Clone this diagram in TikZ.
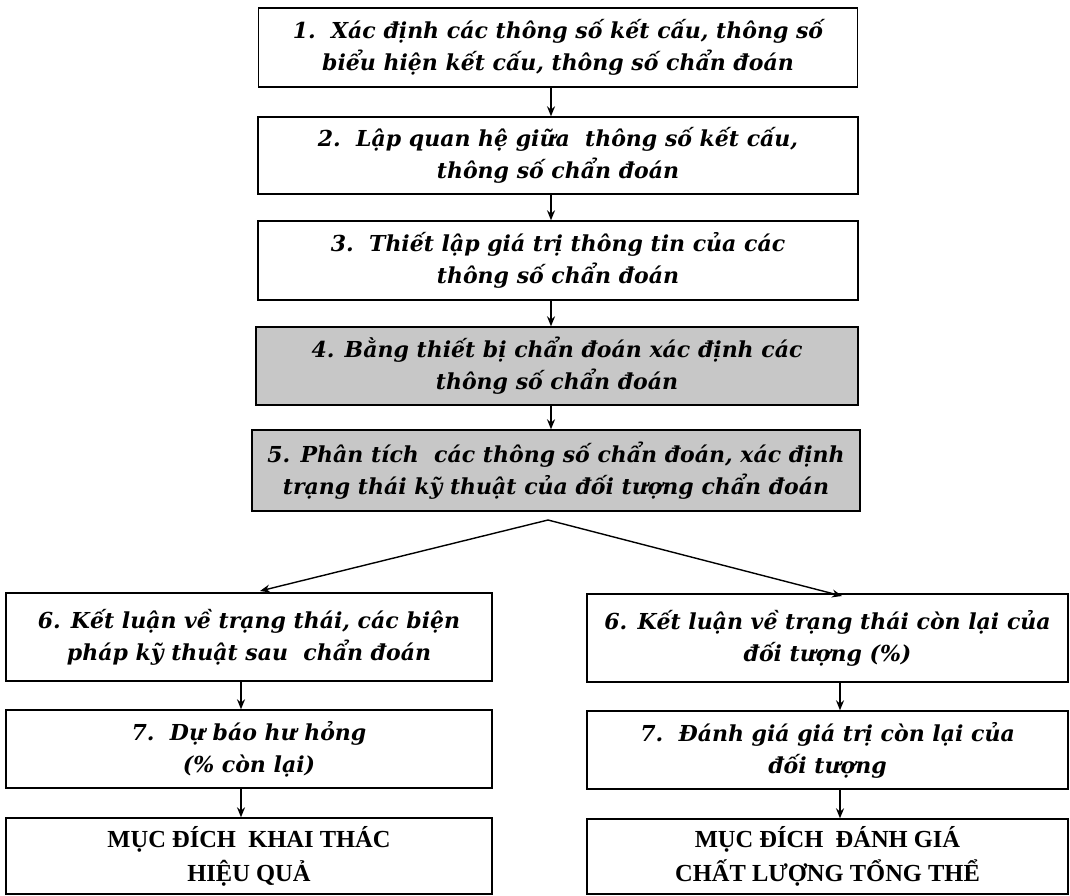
\documentclass[tikz,border=0pt]{standalone}
\usepackage{fontspec}
\setmainfont{DejaVu Serif}
\newfontfamily\capfont{Liberation Serif}
\usetikzlibrary{arrows.meta,calc}
\tikzset{
  box/.style={draw=black, line width=1.4pt, rectangle, inner sep=0pt, align=center,
    font=\fontsize{22}{32}\selectfont\bfseries\itshape},
  shaded/.style={box, fill=black!22},
  goal/.style={draw=black, line width=1.4pt, rectangle, inner sep=0pt, align=center,
    font=\capfont\fontsize{24.5}{34}\selectfont\bfseries},
  arr/.style={line width=1.4pt, -{Stealth[length=10pt,width=8pt]}},
}
\begin{document}
\begin{tikzpicture}[x=1pt,y=-1pt]
\useasboundingbox (0,0) rectangle (1070,896);
\node[box, minimum width=599pt, minimum height=79pt] (b1) at (558,47.5)
  {1.\ \ Xác định các thông số kết cấu, thông số\\ biểu hiện kết cấu, thông số chẩn đoán};
\node[box, minimum width=600pt, minimum height=77pt] (b2) at (558,155.5)
  {2.\ \ Lập quan hệ giữa\ \ thông số kết cấu,\\ thông số chẩn đoán};
\node[box, minimum width=600pt, minimum height=79pt] (b3) at (558,260.5)
  {3.\ \ Thiết lập giá trị thông tin của các\\ thông số chẩn đoán};
\node[shaded, minimum width=602pt, minimum height=78pt] (b4) at (557,366)
  {4. Bằng thiết bị chẩn đoán xác định các\\ thông số chẩn đoán};
\node[shaded, minimum width=608pt, minimum height=81pt] (b5) at (556,470.5)
  {5. Phân tích\ \ các thông số chẩn đoán, xác định\\ trạng thái kỹ thuật của đối tượng chẩn đoán};
\node[box, minimum width=486pt, minimum height=88pt] (l6) at (249,637)
  {6. Kết luận về trạng thái, các biện\\ pháp kỹ thuật sau\ \ chẩn đoán};
\node[box, minimum width=486pt, minimum height=78pt] (l7) at (249,749)
  {7.\ \ Dự báo hư hỏng\\ (\% còn lại)};
\node[goal, minimum width=486pt, minimum height=76pt] (l8) at (249,856)
  {MỤC ĐÍCH\ \ KHAI THÁC\\ HIỆU QUẢ};
\node[box, minimum width=481pt, minimum height=88pt] (r6) at (827.5,638)
  {6. Kết luận về trạng thái còn lại của\\ đối tượng (\%)};
\node[box, minimum width=481pt, minimum height=78pt] (r7) at (827.5,750)
  {7.\ \ Đánh giá giá trị còn lại của\\ đối tượng};
\node[goal, minimum width=481pt, minimum height=75pt] (r8) at (827.5,856.5)
  {MỤC ĐÍCH\ \ ĐÁNH GIÁ\\ CHẤT LƯỢNG TỔNG THỂ};
\coordinate (ax) at (551,0);
\coordinate (lx) at (241,0);
\coordinate (rx) at (840,0);
\coordinate (apex) at (548,520);
\coordinate (lend) at (260,591);
\coordinate (rend) at (842,596);
\draw[arr] (b1.south -| ax) -- (b2.north -| ax);
\draw[arr] (b2.south -| ax) -- (b3.north -| ax);
\draw[arr] (b3.south -| ax) -- (b4.north -| ax);
\draw[arr] (b4.south -| ax) -- (b5.north -| ax);
\draw[arr] (apex) -- (lend);
\draw[arr] (apex) -- (rend);
\draw[arr] (l6.south -| lx) -- (l7.north -| lx);
\draw[arr] (l7.south -| lx) -- (l8.north -| lx);
\draw[arr] (r6.south -| rx) -- (r7.north -| rx);
\draw[arr] (r7.south -| rx) -- (r8.north -| rx);
\end{tikzpicture}
\end{document}
